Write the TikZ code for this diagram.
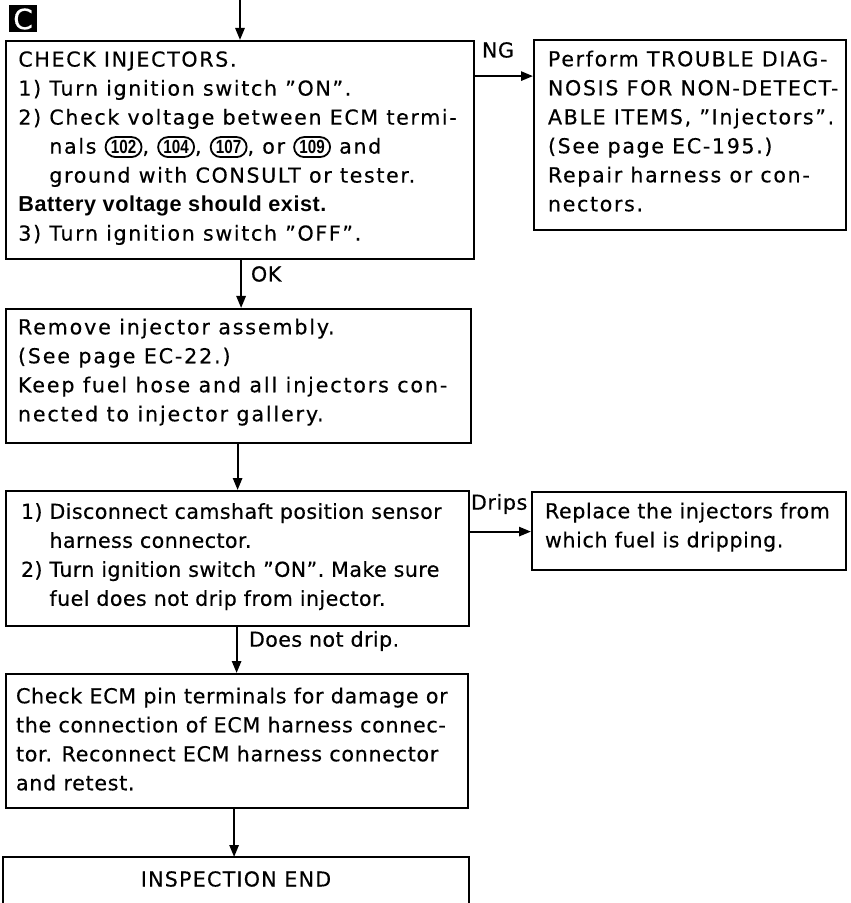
\documentclass[tikz,border=0pt]{standalone}
\usepackage{fontspec}
\setmainfont{DejaVu Sans}[LetterSpace=3,FakeBold=0.4,BoldFont=Liberation Sans Bold,BoldFeatures={LetterSpace=2.5,Scale=1.05,FakeBold=0}]
\newfontfamily\trmfont{Liberation Sans Bold}[FakeStretch=0.8]
\usetikzlibrary{arrows.meta,calc}
\newcommand{\trm}[1]{\tikz[baseline=(tt.base)]\node(tt)[draw,line width=0.9pt,rounded corners=5pt,minimum width=18pt,minimum height=10pt,inner xsep=2pt,inner ysep=0.6pt,font=\trmfont\fontsize{9.5}{9.5}\selectfont]{#1};}
\begin{document}
\begin{tikzpicture}[x=0.5pt,y=-0.5pt,line width=1pt,
  box/.style={draw,line width=1.1pt,anchor=north west,inner sep=0},
  txt/.style={font=\fontsize{10.3}{14.5}\selectfont\addfontfeatures{LetterSpace=#1},align=left,inner sep=0},
  lbl/.style={font=\fontsize{10.3}{14.5}\selectfont\addfontfeatures{LetterSpace=#1},inner sep=0},
  arr/.style={line width=1.1pt,-{Triangle[length=6pt,width=4.6pt]}}]
\useasboundingbox (0,0) rectangle (850,903);

% label C
\node[fill=black,text=white,minimum width=14pt,minimum height=13.5pt,inner sep=0,font=\fontsize{14}{14}\selectfont] (lc) at (23,19) {C};

% boxes
\node[box,minimum width=234pt,minimum height=109pt] (b1) at (5,40) {};
\node[box,minimum width=156pt,minimum height=95pt] (b2) at (533,39) {};
\node[box,minimum width=232.5pt,minimum height=67pt] (b3) at (5,308) {};
\node[box,minimum width=231.5pt,minimum height=67.5pt] (b4) at (5,490) {};
\node[box,minimum width=157pt,minimum height=39pt] (b5) at (531,491) {};
\node[box,minimum width=231pt,minimum height=67pt] (b6) at (5,673) {};
\node[inner sep=0,anchor=north west,minimum width=232pt,minimum height=21pt] (b7) at (3,857) {};
\draw[line width=1.1pt] ([yshift=-30pt]b7.south west) -- (b7.north west) -- (b7.north east) -- ([yshift=-30pt]b7.south east);

% texts
\node[txt=8,anchor=west] (t1) at ([xshift=6.5pt,yshift=1pt]b1.west) {CHECK INJECTORS.\\
1) Turn ignition switch ''ON''.\\
2) Check voltage between ECM termi-\\
\phantom{2) }nals \trm{102}, \trm{104}, \trm{107}, or \trm{109} and\\
\phantom{2) }ground with CONSULT or tester.\\
\textbf{\addfontfeatures{LetterSpace=2.5}Battery voltage should exist.}\\
3) Turn ignition switch ''OFF''.};

\node[txt=8,anchor=west] (t2) at ([xshift=7pt,yshift=2pt]b2.west) {Perform TROUBLE DIAG-\\
NOSIS FOR NON-DETECT-\\
ABLE ITEMS, ''Injectors''.\\
(See page EC-195.)\\
Repair harness or con-\\
nectors.};

\node[txt=9,anchor=west] (t3) at ([xshift=6pt,yshift=2pt]b3.west) {Remove injector assembly.\\
(See page EC-22.)\\
Keep fuel hose and all injectors con-\\
nected to injector gallery.};

\node[txt=2,anchor=west] (t4) at ([xshift=7.5pt,yshift=1pt]b4.west) {1) Disconnect camshaft position sensor\\
\phantom{1) }harness connector.\\
2) Turn ignition switch ''ON''. Make sure\\
\phantom{2) }fuel does not drip from injector.};

\node[txt=3,anchor=west] (t5) at ([xshift=6.5pt,yshift=2pt]b5.west) {Replace the injectors from\\
which fuel is dripping.};

\node[txt=3.5,anchor=west] (t6) at ([xshift=5pt,yshift=1pt]b6.west) {Check ECM pin terminals for damage or\\
the connection of ECM harness connec-\\
tor. Reconnect ECM harness connector\\
and retest.};

\node[txt=6] (t7) at (b7.center) {INSPECTION END};

% connectors
\coordinate (top) at (240,0);
\draw[arr] (top) -- (top |- b1.north);
\draw[arr] ([xshift=0.5pt]b1.south) -- ([xshift=0.5pt]b1.south |- b3.north);
\draw[arr] ([xshift=-0.5pt]b3.south) -- ([xshift=-0.5pt]b3.south |- b4.north);
\draw[arr] ([xshift=-0.5pt]b4.south) -- ([xshift=-0.5pt]b4.south |- b6.north);
\draw[arr] ([xshift=-1.5pt]b6.south) -- ([xshift=-1.5pt]b6.south |- b7.north);
\draw[arr] ([yshift=37pt]b1.east) -- ([yshift=37pt]b1.east -| b2.west);
\draw[arr] ([yshift=13.5pt]b4.east) -- ([yshift=13.5pt]b4.east -| b5.west);

% labels
\node[lbl=3,anchor=west] (lng) at (481,50) {NG};
\node[lbl=3,anchor=west] (lok) at (250,274) {OK};
\node[lbl=3,anchor=west] (ldr) at (470,504) {Drips};
\node[lbl=2,anchor=west] (ldn) at (248,641) {Does not drip.};
\end{tikzpicture}
\end{document}
